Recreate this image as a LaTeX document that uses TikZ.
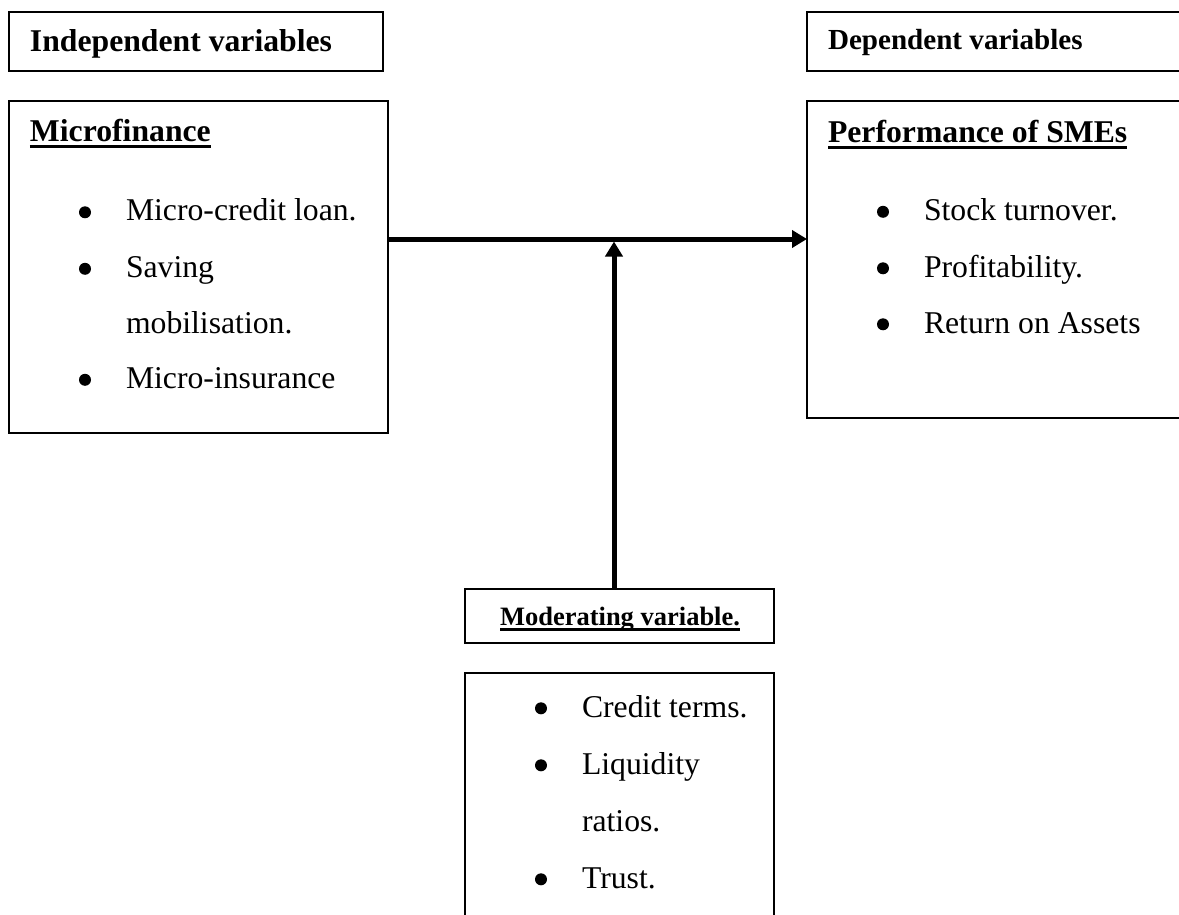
\documentclass[tikz,border=0pt]{standalone}
\usepackage{fontspec}
\setmainfont{Liberation Serif}
\usetikzlibrary{arrows.meta}
\newcommand\ulA[1]{\setbox0\hbox{#1}\rlap{\rule[-6.5pt]{\wd0}{3.2pt}}\box0}
\newcommand\ulB[1]{\setbox0\hbox{#1}\rlap{\rule[-6pt]{\wd0}{2.6pt}}\box0}
\newcommand\blt{\makebox[0pt][r]{\tikz[baseline=0pt]\fill (0pt,8.7pt) circle[radius=6pt];\hspace{35pt}}}
\tikzset{
  box/.style={draw, line width=1.8pt, inner sep=0pt, outer sep=0pt, anchor=north west},
  txt/.style={anchor=base west, inner sep=0pt, outer sep=0pt, font=\fontsize{31.7pt}{38pt}\selectfont},
  head/.style={anchor=base west, inner sep=0pt, outer sep=0pt, font=\fontsize{31.7pt}{38pt}\selectfont\bfseries},
  dhead/.style={anchor=base west, inner sep=0pt, outer sep=0pt, font=\fontsize{29.1pt}{35pt}\selectfont\bfseries},
  mhead/.style={anchor=base, inner sep=0pt, outer sep=0pt, font=\fontsize{26.5pt}{32pt}\selectfont\bfseries},
  arr/.style={line width=5pt, -{Triangle[length=15pt,width=17pt]}}
}
\begin{document}
\begin{tikzpicture}[x=1pt,y=-1pt]
\useasboundingbox (0,0) rectangle (1179,915);
\fill[white] (0,0) rectangle (1179,915);
\clip (0,0) rectangle (1179,915);
% boxes
\node[box, minimum width=374pt, minimum height=59pt] (indep) at (9,12) {};
\node[box, minimum width=379pt, minimum height=332pt] (mf) at (9,101) {};
\node[box, minimum width=420pt, minimum height=59pt] (dep) at (807,12) {};
\node[box, minimum width=420pt, minimum height=317pt] (perf) at (807,101) {};
\node[box, minimum width=309pt, minimum height=54pt] (mod) at (465,589) {};
\node[box, minimum width=309pt, minimum height=300pt] (mbox) at (465,673) {};
% texts
\node[head] (tI) at (30,52) {Independent variables};
\node[head] (tM) at (30,141.7) {\ulA{Microfinance}};
\node[txt] (m1) at (126,221) {\blt Micro-credit loan.};
\node[txt] (m2) at (126,277.5) {\blt Saving};
\node[txt] (m3) at (126,333) {mobilisation.};
\node[txt] (m4) at (126,388.5) {\blt Micro-insurance};
\node[dhead] (tD) at (828,50) {Dependent variables};
\node[head] (tP) at (828,143) {\ulA{Performance of SMEs}};
\node[txt] (p1) at (924,220.5) {\blt Stock turnover.};
\node[txt] (p2) at (924,277) {\blt Profitability.};
\node[txt] (p3) at (924,333) {\blt Return on Assets};
\node[mhead] (tMod) at (620,625) {\ulB{Moderating variable.}};
\node[txt] (c1) at (582,717) {\blt Credit terms.};
\node[txt] (c2) at (582,774) {\blt Liquidity};
\node[txt] (c3) at (582,831) {ratios.};
\node[txt] (c4) at (582,888) {\blt Trust.};
% connectors
\coordinate (hy) at (600,239);
\coordinate (j) at (614,241.5);
\draw[arr] (mf.east |- hy) -- (perf.west |- hy);
\draw[arr] (j |- mod.north) -- (j);
\end{tikzpicture}
\end{document}
